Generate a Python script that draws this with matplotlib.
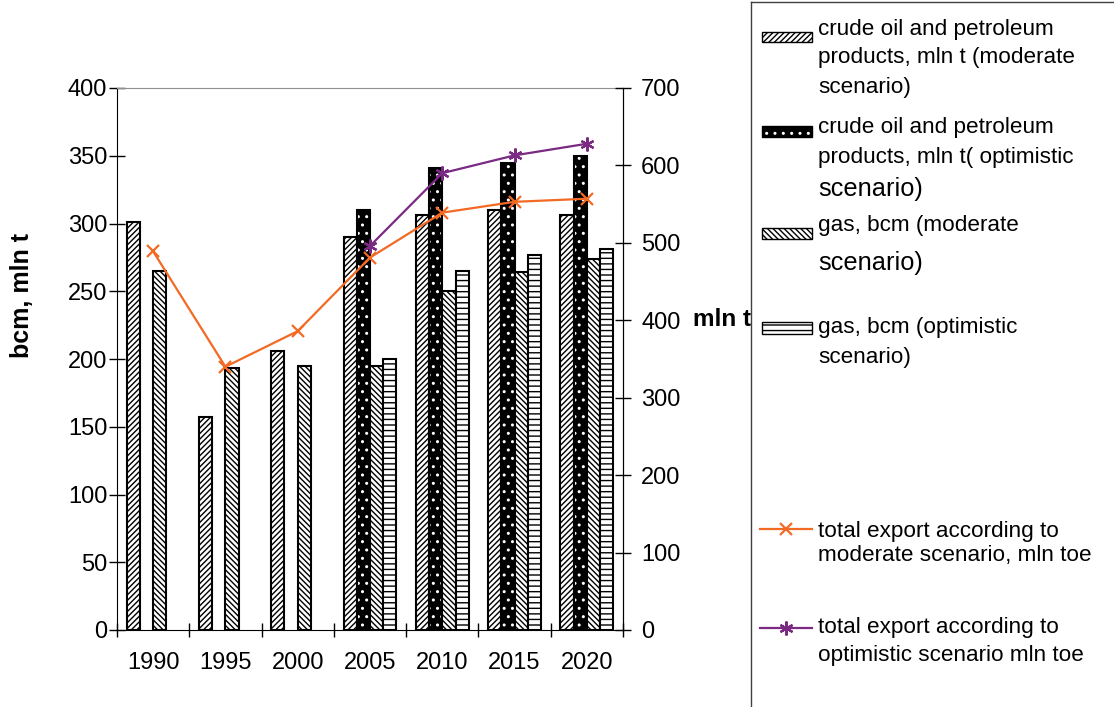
import numpy as np
import matplotlib
matplotlib.use("Agg")
import matplotlib.pyplot as plt
from matplotlib.patches import Rectangle
from matplotlib.lines import Line2D

plt.rcParams['font.family'] = ['Liberation Sans', 'DejaVu Sans']
plt.rcParams['hatch.linewidth'] = 1.0

years = ['1990', '1995', '2000', '2005', '2010', '2015', '2020']
nan = np.nan
oil_moderate = [301, 157, 206, 290, 306, 310, 306]
oil_optimistic = [nan, nan, nan, 310, 341, 345, 350]
gas_moderate = [265, 193, 195, 195, 250, 264, 274]
gas_optimistic = [nan, nan, nan, 200, 265, 277, 281]
export_moderate = [489, 340, 386, 481, 539, 553, 557]
export_optimistic = [nan, nan, nan, 496, 590, 613, 628]

W, H = 1114, 707
orange = '#f26a24'
purple = '#7a2a82'
h_oil = '//////'
h_gas = '\\\\\\\\\\\\'
h_dots = '..'
h_lines = '---'

fig = plt.figure(figsize=(W / 100, H / 100), dpi=100)
ax = fig.add_axes([117 / W, 77 / H, 506 / W, 542 / H])
ax2 = ax.twinx()

x = np.arange(len(years))
w = 0.183

ax.bar(x - 1.5 * w, oil_moderate, w, color='white', edgecolor='black',
       hatch=h_oil, linewidth=1.5)
ax.bar(x - 0.5 * w, oil_optimistic, w, color='black', edgecolor='white',
       hatch=h_dots, linewidth=0)
ax.bar(x - 0.5 * w, oil_optimistic, w, fill=False, edgecolor='black',
       linewidth=1.5)
ax.bar(x + 0.5 * w, gas_moderate, w, color='white', edgecolor='black',
       hatch=h_gas, linewidth=1.5)
ax.bar(x + 1.5 * w, gas_optimistic, w, color='white', edgecolor='black',
       hatch=h_lines, linewidth=1.5)

ax2.plot(x, export_moderate, color=orange, lw=1.6, marker='x', ms=9, mew=1.6)
ax2.plot(x, export_optimistic, color=purple, lw=1.6, marker=(6, 2, 0),
         ms=10, mew=1.6)

ax.set_xlim(-0.5, len(years) - 0.5)
ax.set_ylim(0, 400)
ax2.set_ylim(0, 700)
ax.set_yticks(np.arange(0, 401, 50))
ax2.set_yticks(np.arange(0, 701, 100))

ax.set_xticks(x)
ax.set_xticklabels(years)
ax.set_xticks(np.arange(-0.5, len(years), 1), minor=True)
ax.tick_params(axis='x', which='major', length=0, pad=16, labelsize=17)
ax.tick_params(axis='x', which='minor', direction='inout', length=10,
               width=1)
ax.tick_params(axis='y', direction='inout', length=11, width=1, pad=1.5,
               labelsize=17)
ax2.tick_params(axis='y', direction='inout', length=11, width=1, pad=7.5,
                labelsize=17)

for a in (ax, ax2):
    a.spines['top'].set_color('#909090')
ax2.spines['left'].set_visible(False)
ax2.spines['bottom'].set_visible(False)
ax2.spines['top'].set_visible(False)

fig.text(22 / W, 1 - 295 / H, 'bcm, mln t', rotation=90, fontsize=18,
         fontweight='bold', ha='center', va='center')
fig.text(693 / W, 1 - 320 / H, 'mln toe', fontsize=17.5, fontweight='bold',
         ha='left', va='center')

# legend panel, in pixel coordinates
lx0, ly0 = 751, 2
leg = fig.add_axes([lx0 / W, 0, (W - lx0) / W, (H - ly0) / H])
leg.set_zorder(5)
leg.set_xlim(lx0, W)
leg.set_ylim(H, ly0)
leg.set_xticks([])
leg.set_yticks([])
leg.spines['right'].set_visible(False)
leg.spines['bottom'].set_visible(False)
for s in ('left', 'top'):
    leg.spines[s].set_color('#404040')
    leg.spines[s].set_linewidth(1)

sx, sw = 762, 50
leg.add_patch(Rectangle((sx, 32), sw, 10, facecolor='white', edgecolor='black',
                        hatch=h_oil, lw=1))
leg.add_patch(Rectangle((sx, 126), sw, 11, facecolor='black', edgecolor='white',
                        hatch=h_dots, lw=0))
leg.add_patch(Rectangle((sx, 126), sw, 11, fill=False, edgecolor='black', lw=1))
leg.add_patch(Rectangle((sx, 228), sw, 11, facecolor='white', edgecolor='black',
                        hatch=h_gas, lw=1))
leg.add_patch(Rectangle((sx, 322), sw, 12, facecolor='white', edgecolor='black',
                        hatch=h_lines, lw=1))
leg.add_line(Line2D([760, 812], [529, 529], color=orange, lw=1.6))
leg.plot([786], [529], color=orange, marker='x', ms=9, mew=1.6)
leg.add_line(Line2D([760, 812], [628, 628], color=purple, lw=1.6))
leg.plot([786], [628], color=purple, marker=(6, 2, 0), ms=10, mew=1.6)

tx = 818
small, big = 16.2, 18.3
legend_lines = [
    (30, 'crude oil and petroleum', small),
    (58, 'products, mln t (moderate', small),
    (88, 'scenario)', small),
    (128, 'crude oil and petroleum', small),
    (157, 'products, mln t( optimistic', small),
    (189, 'scenario)', big),
    (226, 'gas, bcm (moderate', small),
    (263, 'scenario)', big),
    (328, 'gas, bcm (optimistic', small),
    (357, 'scenario)', small),
    (531, 'total export according to', small),
    (556, 'moderate scenario, mln toe', small),
    (628, 'total export according to', small),
    (656, 'optimistic scenario mln toe', small),
]
for ty, s, fs in legend_lines:
    leg.text(tx, ty, s, fontsize=fs, ha='left', va='center')

fig.savefig('out.png', dpi=100)
